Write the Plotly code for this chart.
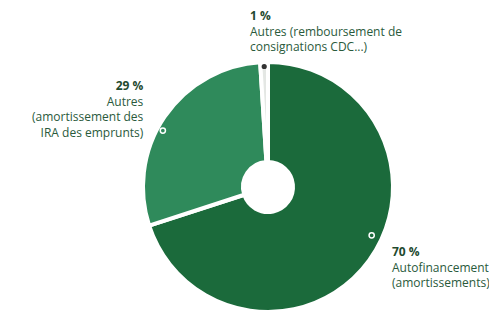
import math
import plotly.graph_objects as go

# ---- data ----
labels = ["Autofinancement (amortissements)",
          "Autres (amortissement des IRA des emprunts)",
          "Autres (remboursement de consignations CDC...)"]
values = [70, 29, 1]
pct_text = ["70 %", "29 %", "1 %"]
desc_text = ["Autofinancement<br>(amortissements)",
             "Autres<br>(amortissement des<br>IRA des emprunts)",
             "Autres (remboursement de<br>consignations CDC...)"]

# ---- style ----
colors = ["#1b6a3b", "#2f8a5b", "#e4e7e4"]
OFF = 8  # page body margin
W, H = 497, 310
cx, cy, R = 268 - OFF, 187 - OFF, 125
hole = 0.2
marker_shift_deg = [-11, -6, 0]
marker_r = [0.93, 0.97, 0.98]
label_pos = [(390 - OFF, 241 - OFF, "left"), (146 - OFF, 75 - OFF, "right"), (248 - OFF, 5 - OFF, "left")]
TXT = "#2a5a3c"
BOLD = "#1f4a2f"
FONT = "Open Sans, sans-serif"

fig = go.Figure()
fig.add_trace(go.Pie(
    labels=labels, values=values, sort=False, direction="clockwise", rotation=0,
    hole=hole, textinfo="none", hoverinfo="label+percent",
    marker=dict(colors=colors, line=dict(color="white", width=4)),
    domain=dict(x=[(cx - R) / W, (cx + R) / W], y=[1 - (cy + R) / H, 1 - (cy - R) / H]),
    showlegend=False,
))

total = sum(values)
shapes = []
annotations = []
cum = 0
for i, v in enumerate(values):
    mid = (cum + v / 2) / total * 360 + marker_shift_deg[i]
    cum += v
    a = math.radians(mid)
    px = cx + marker_r[i] * (R - 2) * math.sin(a)
    py = cy - marker_r[i] * (R - 2) * math.cos(a)
    rr = 2.6
    if i == 2:
        shapes.append(dict(type="circle", xref="paper", yref="paper",
                           x0=(px - rr) / W, x1=(px + rr) / W,
                           y0=1 - (py + rr) / H, y1=1 - (py - rr) / H,
                           fillcolor="#333", line=dict(width=0)))
    else:
        shapes.append(dict(type="circle", xref="paper", yref="paper",
                           x0=(px - rr) / W, x1=(px + rr) / W,
                           y0=1 - (py + rr) / H, y1=1 - (py - rr) / H,
                           fillcolor="rgba(0,0,0,0)", line=dict(color="white", width=1.5)))
    lx, ly, al = label_pos[i]
    annotations.append(dict(
        x=lx / W, y=1 - ly / H, xref="paper", yref="paper",
        xanchor=al, yanchor="top", align=al, showarrow=False,
        text=f"<b><span style='color:{BOLD}'>{pct_text[i]}</span></b><br>{desc_text[i]}",
        font=dict(family=FONT, size=12, color=TXT)))

fig.update_layout(
    width=W, height=H, margin=dict(l=0, r=0, t=0, b=0),
    paper_bgcolor="white", plot_bgcolor="white",
    shapes=shapes, annotations=annotations,
)
fig.write_html("out.html")
